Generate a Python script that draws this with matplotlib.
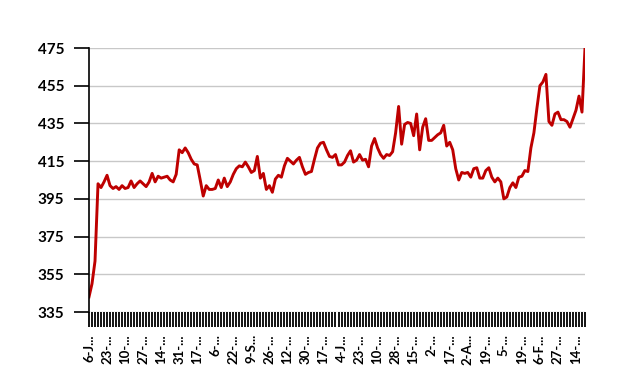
import numpy as np
import matplotlib
matplotlib.use('Agg')
import matplotlib.pyplot as plt

# nilai harian
values = [
    343, 350, 362, 403, 401, 404, 407.5, 402, 400.5, 401.5,
    400, 402, 400.5, 401, 404.5, 401, 403, 404.5, 403, 401.5,
    404, 408.5, 404, 407, 406, 406.5, 407, 405, 404, 408,
    421, 419.5, 422, 419.5, 416, 413.5, 413, 405, 396.5, 402,
    400, 400, 400.5, 405, 401, 406, 401.5, 404, 408, 411,
    412.5, 412, 414.5, 412, 409, 410, 417.5, 406, 408.5, 400,
    402, 398.5, 405.5, 407.5, 406.5, 412.5, 416.5, 415, 413.5, 415.5,
    417, 412, 408, 409, 409.5, 416, 422, 424.5, 425, 421,
    417.5, 417, 418.5, 413, 413, 414.5, 418, 420.5, 414.5, 415.5,
    418.5, 415.5, 416, 412, 423, 427, 422, 418.5, 416.5, 418.5,
    418, 420, 430, 444, 424, 434.5, 435.5, 435, 428.5, 440,
    421, 433, 437.5, 426, 426, 427.5, 429, 430, 434, 423,
    425, 421, 411, 405, 409, 408.5, 409, 406.5, 411, 411.5,
    406, 406, 410, 411.5, 406.5, 404, 406, 404, 395, 396,
    401, 403.5, 401, 406.5, 407, 410, 409.5, 422, 430, 443,
    455, 457, 461, 436, 434, 440, 441, 437, 437, 436,
    433, 437.5, 442, 449.5, 441, 475,
]

# label tanggal (terpotong seperti aslinya)
tick_labels = [
    "6-J...", "23-...", "10-...", "27-...", "14-...", "31-...", "17-...",
    "6-...", "22-...", "9-S...", "26-...", "12-...", "30-...", "17-...",
    "4-J...", "23-...", "10-...", "28-...", "15-...", "2-...", "17-...",
    "2-A...", "19-...", "5-...", "19-...", "6-F...", "27-...", "14-...",
]
label_step = 6

y_ticks = [335, 355, 375, 395, 415, 435, 455, 475]

plt.rcParams['font.family'] = ['Lato', 'DejaVu Sans']

x = np.arange(len(values))

fig = plt.figure(figsize=(6.18, 3.84), dpi=100)
ax = fig.add_axes([89 / 618, 1 - 312 / 384, 496 / 618, 264 / 384])

ax.plot(x, values, color='#BE0000', linewidth=2.1, solid_joinstyle='round')

ax.set_xlim(0, len(values) - 1)
ax.set_ylim(335, 475)

# sumbu y
ax.set_yticks(y_ticks)
ax.set_yticklabels([str(v) for v in y_ticks], fontsize=11, fontweight='bold')
ax.yaxis.grid(True, color='#c8c8c8', linewidth=1)
ax.set_axisbelow(True)
ax.tick_params(axis='y', length=11, width=1.2, color='black', pad=7)

# sumbu x: tanda di setiap titik, label tiap 6 titik
ax.set_xticks(x[::label_step])
ax.set_xticklabels(tick_labels, rotation=90, fontsize=9.5, fontweight='bold',
                   va='top', ha='center')
ax.set_xticks(x, minor=True)
ax.tick_params(axis='x', which='both', length=11, width=1.3, color='black', pad=5)

for side in ['top', 'right', 'bottom']:
    ax.spines[side].set_visible(False)
ax.spines['left'].set_linewidth(1.2)

fig.savefig('out.png', dpi=100)
